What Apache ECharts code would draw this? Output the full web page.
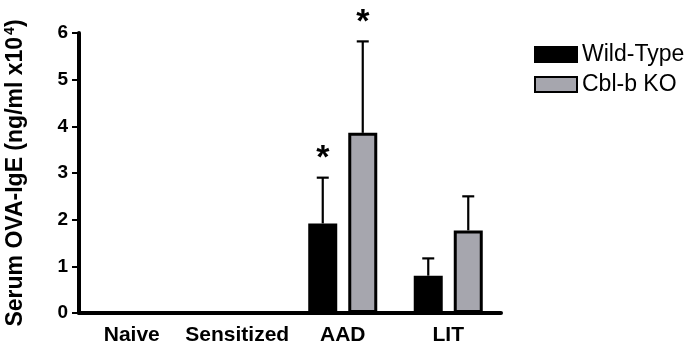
<!DOCTYPE html>
<html>
<head>
<meta charset="utf-8">
<script src="https://cdn.jsdelivr.net/npm/echarts@6/dist/echarts.min.js"></script>
<style>
html, body { margin: 0; padding: 0; background: #fff; }
#main { width: 686px; height: 349px; }
</style>
</head>
<body>
<div id="main"></div>
<script>
var categories = ['Naive', 'Sensitized', 'AAD', 'LIT'];
var wtMean = [0, 0, 1.92, 0.8];
var wtUpper = [null, null, 2.9, 1.17];
var koMean = [0, 0, 3.86, 1.77];
var koUpper = [null, null, 5.82, 2.5];
var wtStar = [false, false, true, false];
var koStar = [false, false, true, false];
var yTicks = [0, 1, 2, 3, 4, 5, 6];

var dom = document.getElementById('main');
var chart = echarts.init(dom);
var font = 'Liberation Sans, Arial, sans-serif';

// zero-height bars: no border so nothing sits on the axis
function barData(values) {
	return values.map(function (v) {
		return v === 0 ? { value: v, itemStyle: { borderWidth: 0 } } : v;
	});
}

// error bar (upper only) + optional star, shifted onto its bar
function errorSeries(means, uppers, stars, shift) {
	var data = [];
	for (var i = 0; i < categories.length; i++) {
		if (uppers[i] != null) data.push([i, means[i], uppers[i], stars[i] ? 1 : 0]);
	}
	return {
		type: 'custom',
		z: 1,
		data: data,
		renderItem: function (params, api) {
			var base = api.coord([api.value(0), api.value(1)]);
			var top = api.coord([api.value(0), api.value(2)]);
			var x = base[0] + shift;
			var cap = 6;
			var children = [
				{ type: 'line', shape: { x1: x, y1: base[1], x2: x, y2: top[1] }, style: { stroke: '#000', lineWidth: 2.2 } },
				{ type: 'line', shape: { x1: x - cap, y1: top[1], x2: x + cap, y2: top[1] }, style: { stroke: '#000', lineWidth: 2.2 } }
			];
			if (api.value(3)) {
				children.push({
					type: 'text',
					style: { x: x, y: top[1] - 19, text: '*', fill: '#000', font: 'bold 34px ' + font, textAlign: 'center', textVerticalAlign: 'middle' }
				});
			}
			return { type: 'group', children: children };
		}
	};
}

var option = {
	animation: false,
	backgroundColor: '#fff',
	textStyle: { fontFamily: font },
	grid: { left: 79, right: 185, top: 33, bottom: 36, containLabel: false, outerBoundsMode: 'none' },
	legend: {
		orient: 'vertical',
		left: 529,
		top: 38,
		icon: 'rect',
		itemWidth: 42,
		itemHeight: 15,
		itemGap: 7,
		textStyle: { fontSize: 23, color: '#000', fontFamily: font },
		data: ['Wild-Type', 'Cbl-b KO']
	},
	xAxis: {
		type: 'category',
		data: categories,
		axisLine: { lineStyle: { color: '#000', width: 4 } },
		axisTick: { show: false },
		axisLabel: { interval: 0, color: '#000', fontWeight: 'bold', fontSize: 21, margin: 12, fontFamily: font }
	},
	yAxis: {
		type: 'value',
		min: yTicks[0],
		max: yTicks[yTicks.length - 1],
		interval: 1,
		name: '{a|Serum OVA-IgE (ng/ml x10}{s|4}{a|)}',
		nameLocation: 'middle',
		nameRotate: 90,
		nameGap: 50,
		nameTextStyle: {
			rich: {
				a: { fontSize: 23, fontWeight: 'bold', color: '#000', fontFamily: font },
				s: { fontSize: 14, fontWeight: 'bold', color: '#000', fontFamily: font, verticalAlign: 'top', padding: [0, 0, 12, 2] }
			}
		},
		splitLine: { show: false },
		axisLine: { show: true, lineStyle: { color: '#000', width: 4 } },
		axisTick: { show: true, length: 7, lineStyle: { color: '#000', width: 2 } },
		axisLabel: { color: '#000', fontWeight: 'bold', fontSize: 19, margin: 11, fontFamily: font }
	},
	series: [
		{
			name: 'Wild-Type',
			type: 'bar',
			z: 2,
			data: barData(wtMean),
			barWidth: 29,
			barGap: '38%',
			itemStyle: { color: '#000', borderColor: '#000', borderWidth: 3 }
		},
		{
			name: 'Cbl-b KO',
			type: 'bar',
			z: 2,
			data: barData(koMean),
			barWidth: 29,
			itemStyle: { color: '#a6a6ae', borderColor: '#000', borderWidth: 3 }
		},
		errorSeries(wtMean, wtUpper, wtStar, -20),
		errorSeries(koMean, koUpper, koStar, 20)
	]
};
chart.setOption(option);
</script>
</body>
</html>
